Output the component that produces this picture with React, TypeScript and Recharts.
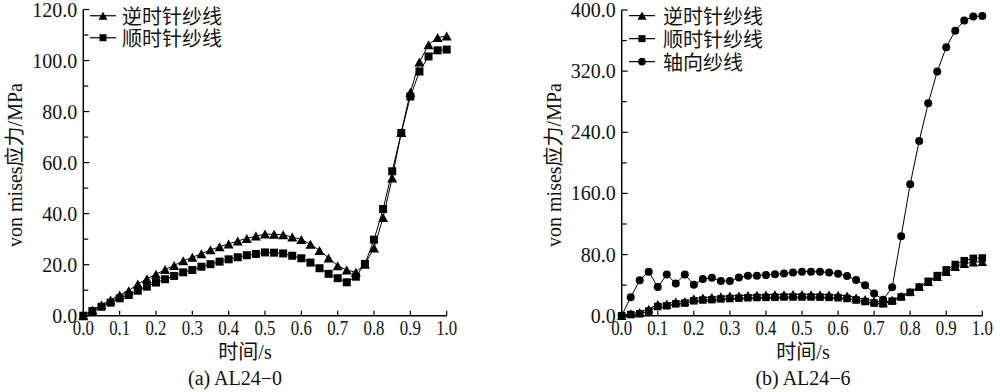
import React from 'react';
import { LineChart, Line, XAxis, YAxis, Legend } from 'recharts';

// time (s)
const times = [
  0, 0.025, 0.05, 0.075, 0.1, 0.125, 0.15, 0.175, 0.2, 0.225, 0.25, 0.275, 0.3, 0.325,
  0.35, 0.375, 0.4, 0.425, 0.45, 0.475, 0.5, 0.525, 0.55, 0.575, 0.6, 0.625, 0.65, 0.675,
  0.7, 0.725, 0.75, 0.775, 0.8, 0.825, 0.85, 0.875, 0.9, 0.925, 0.95, 0.975, 1.0,
];

// (a) AL24-0
const leftCcw = [
  0, 2.2, 4.2, 6.2, 8.1, 9.8, 12.4, 14.5, 16.2, 18.1, 19.7, 21.5, 22.9, 24.3,
  25.8, 27.0, 28.1, 29.3, 30.3, 31.2, 32.0, 31.9, 31.7, 30.8, 29.9, 28.0, 25.6, 22.6,
  19.6, 17.9, 17.0, 20.2, 26.5, 38.5, 54.0, 71.8, 87.6, 99.4, 106.2, 109.0, 109.6,
];
const leftCw = [
  0, 1.8, 3.5, 5.1, 6.8, 8.1, 9.8, 11.4, 13.0, 14.3, 15.6, 17.0, 17.9, 19.2,
  20.2, 21.2, 22.1, 22.9, 23.7, 24.2, 24.8, 24.7, 24.4, 23.5, 22.5, 20.8, 18.6, 16.4,
  14.7, 13.1, 15.3, 20.3, 29.8, 41.8, 56.6, 71.6, 85.9, 95.7, 101.6, 104.0, 104.3,
];

// (b) AL24-6
const rightCcw = [
  0, 3, 4.4, 8.8, 15, 15.5, 18.3, 18.8, 22.5, 23.5, 24, 25.2, 26, 26.2,
  26.8, 27, 27.5, 27.6, 27.8, 28, 28, 27.8, 27.8, 27.5, 27, 26.2, 23.6, 21.5,
  19.6, 17, 20.5, 25.8, 31.4, 38, 44.5, 51, 57.6, 64, 68, 70, 70.5,
];
const rightCw = [
  0, 1.5, 2.5, 6, 12, 13, 15.5, 16.5, 19.5, 20.5, 21, 22, 22.5, 23,
  23.5, 23.8, 24, 24.2, 24.5, 24.5, 24.5, 24.5, 24.3, 24, 23.5, 22.5, 20.5, 18.5,
  16.5, 15.5, 19, 24.5, 30.5, 37.5, 45, 52.5, 60, 67, 72, 75, 75.5,
];
const rightAxial = [
  0, 24, 46.5, 57.6, 37.5, 54, 42, 54, 40.5, 48, 49.7, 45.5, 45.5, 50,
  52.2, 52.4, 53.3, 54.2, 55.2, 56.5, 57.6, 57.6, 57.4, 56.6, 55, 52, 46.7, 40,
  29, 21, 37.2, 104, 172, 228.7, 278, 319.4, 351.3, 373, 386.2, 391.4, 392.3,
];

const xTicks = [0, 0.1, 0.2, 0.3, 0.4, 0.5, 0.6, 0.7, 0.8, 0.9, 1.0];
const leftYTicks = [0, 10, 20, 30, 40, 50, 60, 70, 80, 90, 100, 110, 120];
const rightYTicks = [0, 40, 80, 120, 160, 200, 240, 280, 320, 360, 400];

const labelCcw = '逆时针纱线';
const labelCw = '顺时针纱线';
const labelAxial = '轴向纱线';

const leftData = times.map((t, i) => ({ t, ccw: leftCcw[i], cw: leftCw[i] }));
const rightData = times.map((t, i) => ({ t, ccw: rightCcw[i], cw: rightCw[i], axial: rightAxial[i] }));

const SERIF = "'Liberation Serif', 'Noto Sans CJK SC', serif";
const CJK = "'Noto Sans CJK SC', sans-serif";
const Y_MARGIN = 5;

const Tri = ({ cx, cy, s = 10 }: any) => {
  const h = s * 0.9;
  return <path d={`M${cx},${cy - h / 2}L${cx + s / 2},${cy + h / 2}L${cx - s / 2},${cy + h / 2}Z`} fill="#000" />;
};
const Sq = ({ cx, cy, s = 8 }: any) => <rect x={cx - s / 2} y={cy - s / 2} width={s} height={s} fill="#000" />;
const Circ = ({ cx, cy, r = 4 }: any) => <circle cx={cx} cy={cy} r={r} fill="#000" />;

const makeYTick = (major: number) => (props: any) => {
  const { x, y, payload } = props;
  const ax = x + Y_MARGIN;
  const isMajor = payload.value % major === 0;
  return (
    <g>
      <line x1={ax} x2={ax + (isMajor ? 6 : 5)} y1={y} y2={y} stroke="#000" strokeWidth={1.2} />
      {isMajor && (
        <text x={x - 1} y={y} dy="0.35em" textAnchor="end" fontSize={20} fontFamily={SERIF} fill="#111">
          {payload.value.toFixed(1)}
        </text>
      )}
    </g>
  );
};

const XTick = (props: any) => {
  const { x, y, payload } = props;
  return (
    <g>
      <line x1={x} x2={x} y1={y} y2={y - 5} stroke="#000" strokeWidth={1.2} />
      <text x={x} y={y + 19} textAnchor="middle" fontSize={20} fontFamily={SERIF} fill="#111"
        textLength={21} lengthAdjust="spacingAndGlyphs">
        {payload.value.toFixed(1)}
      </text>
    </g>
  );
};

const LegendBox = ({ items, rowH, gap }: any) => (
  <div>
    {items.map((it: any) => (
      <div key={it.name} style={{ display: 'flex', alignItems: 'center', height: rowH }}>
        <svg width={30} height={rowH} style={{ display: 'block' }}>
          <line x1={2} x2={28} y1={rowH / 2} y2={rowH / 2} stroke="#000" strokeWidth={1.2} />
          {it.shape === 'tri' && <Tri cx={15} cy={rowH / 2} s={9} />}
          {it.shape === 'sq' && <Sq cx={15} cy={rowH / 2} s={7} />}
          {it.shape === 'circ' && <Circ cx={15} cy={rowH / 2} r={3.8} />}
        </svg>
        <div style={{
          marginLeft: gap, fontFamily: CJK, fontSize: 20, height: rowH, lineHeight: `${rowH}px`,
          color: '#111', whiteSpace: 'nowrap',
        }}>{it.name}</div>
      </div>
    ))}
  </div>
);

const axisProps = { stroke: '#000', strokeWidth: 1.5 };

const Text = ({ x, y, rotate, children }: any) => (
  <div style={{
    position: 'absolute', left: x - 150, top: y - 14, width: 300, height: 28, lineHeight: '28px',
    textAlign: 'center', fontFamily: SERIF, fontSize: 20, color: '#111',
    transform: rotate ? 'rotate(-90deg)' : undefined,
  }}>{children}</div>
);

export default function App() {
  return (
    <div style={{ position: 'absolute', left: 0, top: 0, width: 1000, height: 392, background: '#fff', overflow: 'hidden' }}>
      <div style={{ position: 'absolute', left: 0, top: 0 }}>
        <LineChart width={500} height={392} data={leftData} margin={{ top: 9.5, right: 53.3, bottom: 46.3, left: 23.3 }}>
          <XAxis dataKey="t" type="number" domain={[0, 1]} ticks={xTicks} interval={0} height={30}
            tickSize={0} tickMargin={0} tick={<XTick />} tickLine={false} axisLine={axisProps} />
          <YAxis type="number" domain={[0, 120]} ticks={leftYTicks} interval={0} width={60}
            tickSize={0} tickMargin={Y_MARGIN} tick={makeYTick(20)} tickLine={false} axisLine={axisProps} />
          <Legend layout="vertical" align="center" verticalAlign="middle"
            wrapperStyle={{ left: 88, top: 5, width: 160 }}
            content={() => (
              <LegendBox rowH={21.5} gap={4} items={[{ name: labelCcw, shape: 'tri' }, { name: labelCw, shape: 'sq' }]} />
            )} />
          <Line dataKey="ccw" name={labelCcw} stroke="#000" strokeWidth={1} isAnimationActive={false}
            dot={(p: any) => <Tri key={`a${p.index}`} cx={p.cx} cy={p.cy} />} />
          <Line dataKey="cw" name={labelCw} stroke="#000" strokeWidth={1} isAnimationActive={false}
            dot={(p: any) => <Sq key={`b${p.index}`} cx={p.cx} cy={p.cy} />} />
        </LineChart>
      </div>
      <div style={{ position: 'absolute', left: 500, top: 0 }}>
        <LineChart width={500} height={392} data={rightData} margin={{ top: 10, right: 17.7, bottom: 46.3, left: 61.7 }}>
          <XAxis dataKey="t" type="number" domain={[0, 1]} ticks={xTicks} interval={0} height={30}
            tickSize={0} tickMargin={0} tick={<XTick />} tickLine={false} axisLine={axisProps} />
          <YAxis type="number" domain={[0, 400]} ticks={rightYTicks} interval={0} width={60}
            tickSize={0} tickMargin={Y_MARGIN} tick={makeYTick(80)} tickLine={false} axisLine={axisProps} />
          <Legend layout="vertical" align="center" verticalAlign="middle"
            wrapperStyle={{ left: 127, top: 3.5, width: 160 }}
            content={() => (
              <LegendBox rowH={23.3} gap={6} items={[
                { name: labelCcw, shape: 'tri' }, { name: labelCw, shape: 'sq' }, { name: labelAxial, shape: 'circ' },
              ]} />
            )} />
          <Line dataKey="cw" name={labelCw} stroke="#000" strokeWidth={1} isAnimationActive={false}
            dot={(p: any) => <Sq key={`d${p.index}`} cx={p.cx} cy={p.cy} s={7.5} />} />
          <Line dataKey="ccw" name={labelCcw} stroke="#000" strokeWidth={1} isAnimationActive={false}
            dot={(p: any) => <Tri key={`c${p.index}`} cx={p.cx} cy={p.cy} s={9.5} />} />
          <Line dataKey="axial" name={labelAxial} stroke="#000" strokeWidth={1} isAnimationActive={false}
            dot={(p: any) => <Circ key={`e${p.index}`} cx={p.cx} cy={p.cy} />} />
        </LineChart>
      </div>
      <Text x={15} y={165} rotate>von mises应力/MPa</Text>
      <Text x={554} y={165} rotate>von mises应力/MPa</Text>
      <Text x={245} y={352}>时间/s</Text>
      <Text x={803} y={352}>时间/s</Text>
      <Text x={235} y={378}>(a) AL24−0</Text>
      <Text x={803} y={378}>(b) AL24−6</Text>
    </div>
  );
}
